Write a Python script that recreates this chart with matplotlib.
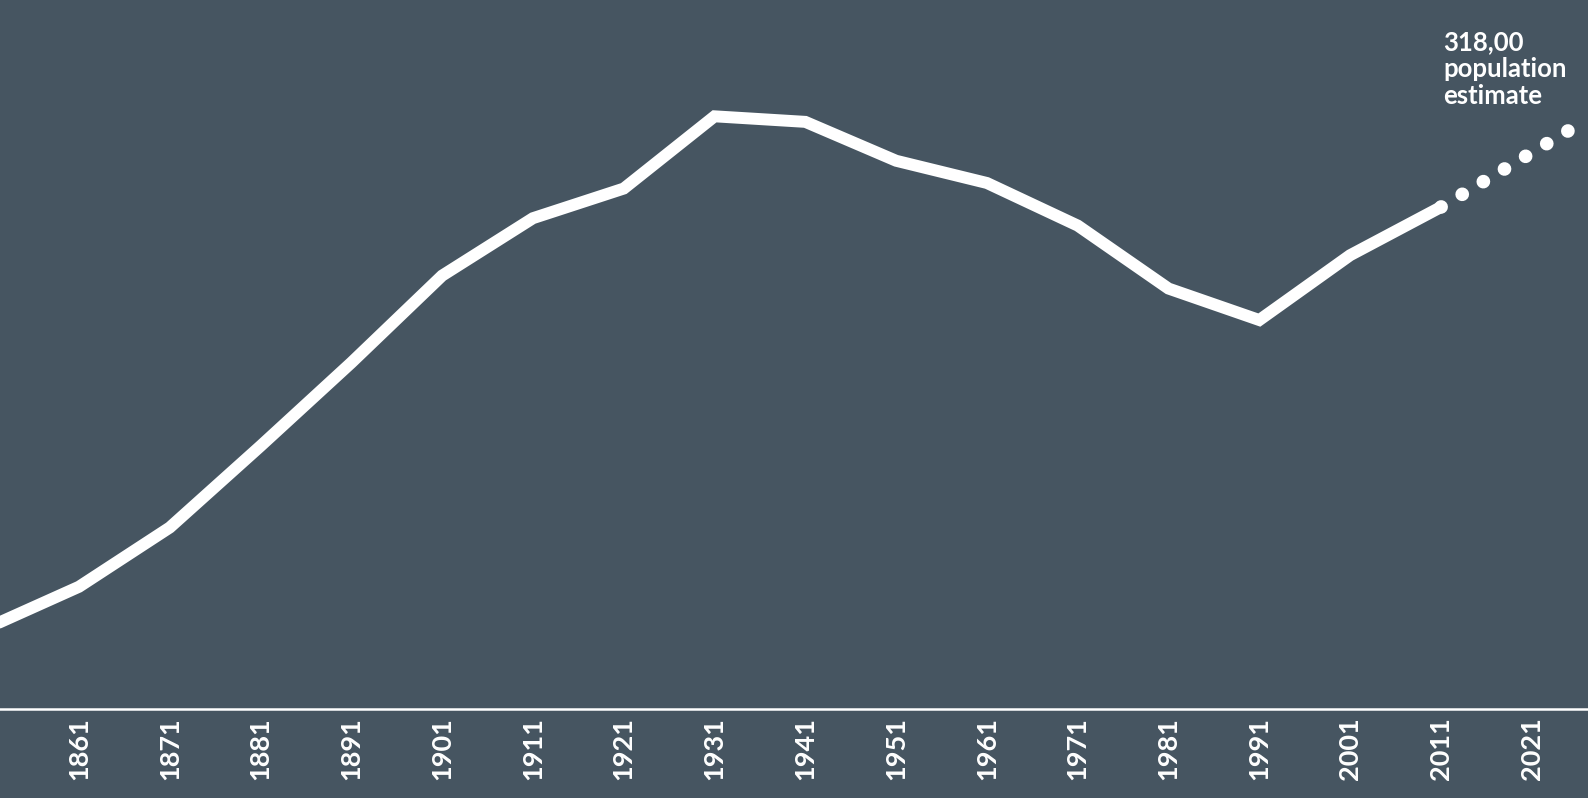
import matplotlib.pyplot as plt

# population (thousands) at each census
years = [1851, 1861, 1871, 1881, 1891, 1901, 1911, 1921, 1931, 1941,
         1951, 1961, 1971, 1981, 1991, 2001, 2011]
population = [44, 66, 98, 142, 187, 234, 265, 281, 320, 317,
              296, 284, 261, 227, 210, 245, 271]

# dotted projection to the estimate
est_years = [2011, 2027]
est_population = [271, 318]

tick_years = list(range(1861, 2031, 10))

bg = '#465561'

fig = plt.figure(figsize=(15.88, 7.98), dpi=100, facecolor=bg)
ax = fig.add_axes([0, 89 / 798, 1, 709 / 798])
ax.set_facecolor(bg)

ax.plot(years, population, color='white', lw=8.6,
        solid_joinstyle='miter', solid_capstyle='round')
ax.plot(est_years, est_population, color='white', lw=9.8,
        linestyle=(1.8, (0.01, 1.8)), dash_capstyle='round')

ax.set_xlim(1852.3, 2027.2)
ax.set_ylim(0, 382.8)

for s in ['top', 'left', 'right']:
    ax.spines[s].set_visible(False)
ax.spines['bottom'].set_color('white')
ax.spines['bottom'].set_linewidth(1.8)

ax.set_yticks([])
ax.set_xticks(tick_years)
ax.set_xticklabels([str(y) for y in tick_years], rotation=90,
                   family=['Lato', 'DejaVu Sans'],
                   fontweight='bold', fontsize=19.5, color='white')
ax.tick_params(axis='x', length=0, pad=6)

fig.text(1443 / 1588, 1 - 30 / 798,
         '318,00\npopulation\nestimate', color='white', fontsize=18.5,
         family=['Lato', 'DejaVu Sans'], fontweight='bold',
         ha='left', va='top', linespacing=1.15)

fig.savefig('out.png', dpi=100, facecolor=bg)
